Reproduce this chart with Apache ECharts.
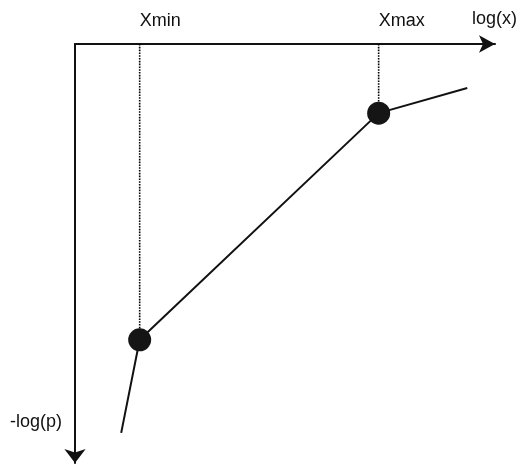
<!DOCTYPE html>
<html>
<head>
<meta charset="utf-8">
<style>
  html, body { margin: 0; padding: 0; background: #fff; }
  #chart { width: 520px; height: 468px; }
</style>
<script src="https://cdn.jsdelivr.net/npm/echarts@6/dist/echarts.min.js"></script>
</head>
<body>
<div id="chart"></div>
<script>
// Piecewise curve of -log(p) against log(x), with knots at Xmin and Xmax
const logX = [1.10, 1.54, 7.23, 9.34];
const negLogP = [9.28, 7.06, 1.65, 1.05];
const knotIndex = [1, 2];           // the two break points drawn as dots
const tickLabels = ['Xmin', 'Xmax'];
const xAxisName = 'log(x)';
const yAxisName = '-log(p)';

const curve = logX.map((x, i) => [x, negLogP[i]]);
const knots = knotIndex.map(i => [logX[i], negLogP[i]]);
const tickValues = knotIndex.map(i => logX[i]);

const font = '"Liberation Sans", Arial, Helvetica, sans-serif';
const ink = '#111';

// Dotted drop lines from the x axis down to each knot
const dropSeries = knots.map(k => ({
  type: 'line',
  data: [[k[0], 0], [k[0], k[1]]],
  symbol: 'none',
  silent: true,
  lineStyle: { color: '#000', width: 1.6, type: [1.6, 1.2] },
  z: 1
}));

const chart = echarts.init(document.getElementById('chart'), null, { renderer: 'canvas' });
chart.setOption({
  animation: false,
  backgroundColor: '#fff',
  grid: { left: 75, top: 44, width: 423, height: 419, containLabel: false },
  xAxis: {
    type: 'value',
    min: 0,
    max: 10,
    position: 'top',
    name: xAxisName,
    nameLocation: 'end',
    nameGap: -23,
    nameTextStyle: {
      fontFamily: font, fontSize: 18, color: ink,
      align: 'left', verticalAlign: 'bottom', padding: [0, 0, 16, 0]
    },
    axisLine: {
      onZero: false,
      symbol: ['none', 'arrow'],
      symbolSize: [13, 16],
      lineStyle: { color: ink, width: 2 }
    },
    axisTick: { show: false },
    splitLine: { show: false },
    axisLabel: {
      customValues: tickValues,
      formatter: v => tickLabels[tickValues.indexOf(v)] || '',
      fontFamily: font, fontSize: 18, color: ink,
      align: 'left', margin: 14
    }
  },
  yAxis: {
    type: 'value',
    min: 0,
    max: 10,
    inverse: true,
    name: yAxisName,
    nameLocation: 'end',
    nameGap: -41,
    nameTextStyle: {
      fontFamily: font, fontSize: 18, color: ink,
      align: 'right', verticalAlign: 'middle', padding: [0, 13, 0, 0]
    },
    axisLine: {
      onZero: false,
      // the axis runs downward, so the arrow sits at the bottom end
      symbol: ['arrow', 'none'],
      symbolSize: [16, 14],
      lineStyle: { color: ink, width: 2 }
    },
    axisTick: { show: false },
    axisLabel: { show: false },
    splitLine: { show: false }
  },
  series: [
    ...dropSeries,
    {
      type: 'line',
      data: curve,
      symbol: 'none',
      lineStyle: { color: ink, width: 2 },
      z: 2
    },
    {
      type: 'scatter',
      data: knots,
      symbol: 'circle',
      symbolSize: 23,
      itemStyle: { color: '#151515', opacity: 1 },
      z: 3
    }
  ]
});
</script>
</body>
</html>
